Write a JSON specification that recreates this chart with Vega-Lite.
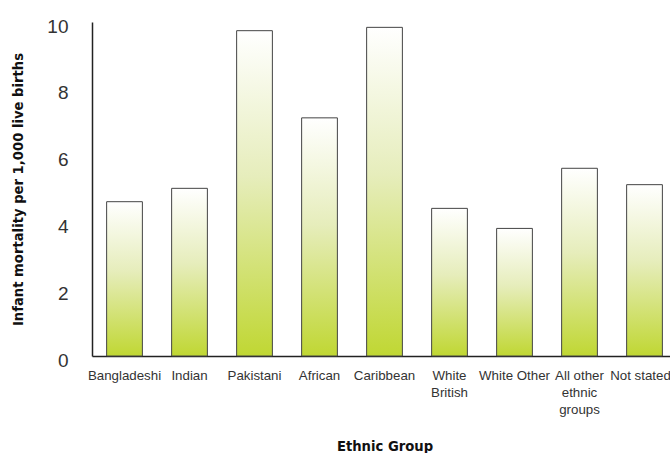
{
  "$schema": "https://vega.github.io/schema/vega-lite/v6.json",
  "width": 585,
  "height": 334,
  "autosize": "none",
  "padding": {"left": 92, "top": 22, "right": 0, "bottom": 97},
  "background": "white",
  "config": {"view": {"stroke": null}},
  "data": {
    "values": [
      {"group": "Bangladeshi", "rate": 4.62},
      {"group": "Indian", "rate": 5.02},
      {"group": "Pakistani", "rate": 9.74},
      {"group": "African", "rate": 7.13},
      {"group": "Caribbean", "rate": 9.84},
      {"group": "White|British", "rate": 4.42},
      {"group": "White Other", "rate": 3.82},
      {"group": "All other|ethnic|groups", "rate": 5.62},
      {"group": "Not stated", "rate": 5.13}
    ]
  },
  "mark": {
    "type": "bar",
    "stroke": "#444444",
    "strokeWidth": 1,
    "color": {
      "gradient": "linear",
      "x1": 0, "y1": 0, "x2": 0, "y2": 1,
      "stops": [
        {"offset": 0, "color": "#ffffff"},
        {"offset": 0.45, "color": "#e6edbb"},
        {"offset": 1, "color": "#c0d733"}
      ]
    }
  },
  "encoding": {
    "x": {
      "field": "group",
      "type": "nominal",
      "sort": null,
      "scale": {"paddingInner": 0.45, "paddingOuter": 0.225},
      "axis": {
        "title": "Ethnic Group",
        "titleFont": "DejaVu Sans",
        "titleFontWeight": "bold",
        "titleFontSize": 13.2,
        "titleColor": "#111111",
        "titlePadding": 25,
        "labelExpr": "split(datum.label, '|')",
        "labelAngle": 0,
        "labelFont": "Liberation Sans",
        "labelFontSize": 13.3,
        "labelColor": "#333333",
        "labelLineHeight": 17,
        "labelPadding": 12,
        "labelBaseline": "top",
        "labelOffset": {"condition": {"test": "datum.value == 'Not stated'", "value": -4}, "value": 0},
        "ticks": false,
        "domainColor": "#222222",
        "domainWidth": 1.5,
        "labelOverlap": false
      }
    },
    "y": {
      "field": "rate",
      "type": "quantitative",
      "scale": {"domain": [0, 10], "nice": false},
      "axis": {
        "title": "Infant mortality per 1,000 live births",
        "titleFont": "DejaVu Sans",
        "titleFontWeight": "bold",
        "titleFontSize": 13.2,
        "titleColor": "#111111",
        "titlePadding": 21,
        "values": [0, 2, 4, 6, 8, 10],
        "grid": false,
        "ticks": false,
        "labelFont": "Liberation Sans",
        "labelFontSize": 19,
        "labelColor": "#333333",
        "labelPadding": 24,
        "labelOffset": 4,
        "domainColor": "#222222",
        "domainWidth": 1.5
      }
    }
  }
}
